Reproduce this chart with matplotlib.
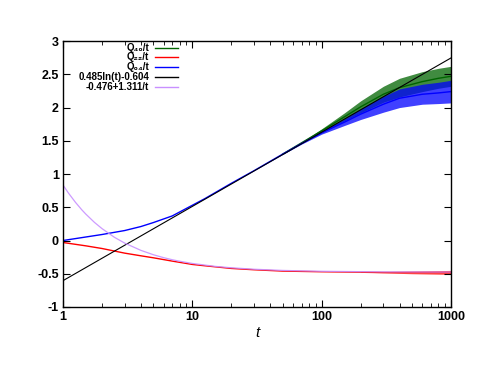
import numpy as np
import matplotlib
matplotlib.use("Agg")
import matplotlib.pyplot as plt

plt.rcParams['font.family'] = ['Liberation Sans', 'DejaVu Sans']

# Q22/t (red)
t_red = [1, 1.5, 2, 3, 4, 5, 7, 10, 12.5, 20, 30, 50, 100, 300, 1000]
y_red = [-0.03, -0.08, -0.12, -0.19, -0.23, -0.26, -0.31, -0.36, -0.38,
         -0.42, -0.44, -0.46, -0.47, -0.48, -0.48]
t_red_noise = [200, 300, 500, 700, 1000]
red_spread = [0.005, 0.01, 0.02, 0.025, 0.03]
red_noise_mid = [-0.475, -0.478, -0.48, -0.48, -0.48]

# Q04/t (blue)
t_blue = [1, 2, 3, 4, 5, 7, 10, 12.5, 20, 30, 50, 70, 100, 150, 200, 300, 400, 600, 800, 1000]
y_blue = [0.0, 0.09, 0.15, 0.21, 0.27, 0.37, 0.53, 0.63, 0.86, 1.05, 1.30, 1.46, 1.62,
          1.78, 1.90, 2.05, 2.14, 2.20, 2.22, 2.24]
blue_spread = [0, 0, 0, 0, 0, 0, 0, 0, 0, 0, 0.005, 0.01, 0.02,
               0.05, 0.08, 0.12, 0.14, 0.15, 0.16, 0.17]

# Q40/t (green)
t_green = [50, 70, 100, 150, 200, 300, 400, 600, 800, 1000]
y_green = [1.30, 1.47, 1.65, 1.86, 2.01, 2.20, 2.30, 2.39, 2.44, 2.47]
green_spread = [0.005, 0.01, 0.03, 0.06, 0.09, 0.12, 0.14, 0.15, 0.15, 0.15]

# fits
t_log = [1, 1000]
y_log = [-0.604, 2.746]
t_inv = [1, 1.1, 1.25, 1.4, 1.5, 1.75, 2, 2.5, 3, 4, 5, 6, 7, 8, 10, 15, 20, 30, 50, 100, 300, 1000]
y_inv = [0.835, 0.716, 0.573, 0.460, 0.398, 0.273, 0.180, 0.048, -0.039, -0.148,
         -0.214, -0.258, -0.289, -0.312, -0.345, -0.389, -0.410, -0.432, -0.450,
         -0.463, -0.472, -0.475]

labels = ['Q₄₀/t', 'Q₂₂/t', 'Q₀₄/t', '0.485ln(t)-0.604', '-0.476+1.311/t']
colors = ['#006400', '#ff0000', '#0000ff', '#000000', '#c890ff']

fig = plt.figure(figsize=(4.79, 3.70), dpi=100)
ax = fig.add_axes([0.1315, 0.1703, 0.81, 0.7187])

ax.plot(t_green, y_green, color=colors[0], lw=1)
g_lo = np.array(y_green) - np.array(green_spread)
g_hi = np.array(y_green) + np.array(green_spread)
ax.fill_between(t_green, g_lo, g_hi, color=colors[0], lw=0, alpha=0.75)

ax.plot(t_red, y_red, color=colors[1], lw=1)
r_lo = np.array(red_noise_mid) - np.array(red_spread)
r_hi = np.array(red_noise_mid) + np.array(red_spread)
ax.fill_between(t_red_noise, r_lo, r_hi, color=colors[1], lw=0, alpha=0.7)

ax.plot(t_blue, y_blue, color=colors[2], lw=1)
b_lo = np.array(y_blue) - np.array(blue_spread)
b_hi = np.array(y_blue) + np.array(blue_spread)
ax.fill_between(t_blue, b_lo, b_hi, color=colors[2], lw=0, alpha=0.75)

ax.plot(t_log, y_log, color=colors[3], lw=0.8)
ax.plot(t_inv, y_inv, color=colors[4], lw=0.9, alpha=0.9)

ax.set_xscale('log')
ax.set_xlim(1, 1000)
ax.set_ylim(-1, 3)
ax.set_xticks([1, 10, 100, 1000])
ax.set_xticklabels(['1', '10', '100', '1000'])
ax.set_yticks([-1, -0.5, 0, 0.5, 1, 1.5, 2, 2.5, 3])
ax.set_yticklabels(['-1', '-0.5', '0', '0.5', '1', '1.5', '2', '2.5', '3'])
ax.tick_params(which='both', direction='in', top=True, right=True, labelsize=9, pad=3)
ax.tick_params(which='major', length=5, width=0.8)
ax.tick_params(which='minor', length=3, width=0.6)
for lab in ax.get_xticklabels() + ax.get_yticklabels():
    lab.set_fontweight('bold')
for s in ax.spines.values():
    s.set_linewidth(1)

ax.set_xlabel('t', fontstyle='italic', fontsize=11, labelpad=2)

# legend drawn by hand, gnuplot style (text right aligned, sample at right)
rows = [0.975, 0.9385, 0.902, 0.8655, 0.829]
for lab, col, yy in zip(labels, colors, rows):
    ax.text(0.222, yy, lab, transform=ax.transAxes, ha='right', va='center',
            fontsize=7, fontweight='bold')
    ax.plot([0.237, 0.296], [yy, yy], transform=ax.transAxes, color=col, lw=1)

fig.savefig('out.png', dpi=100)
